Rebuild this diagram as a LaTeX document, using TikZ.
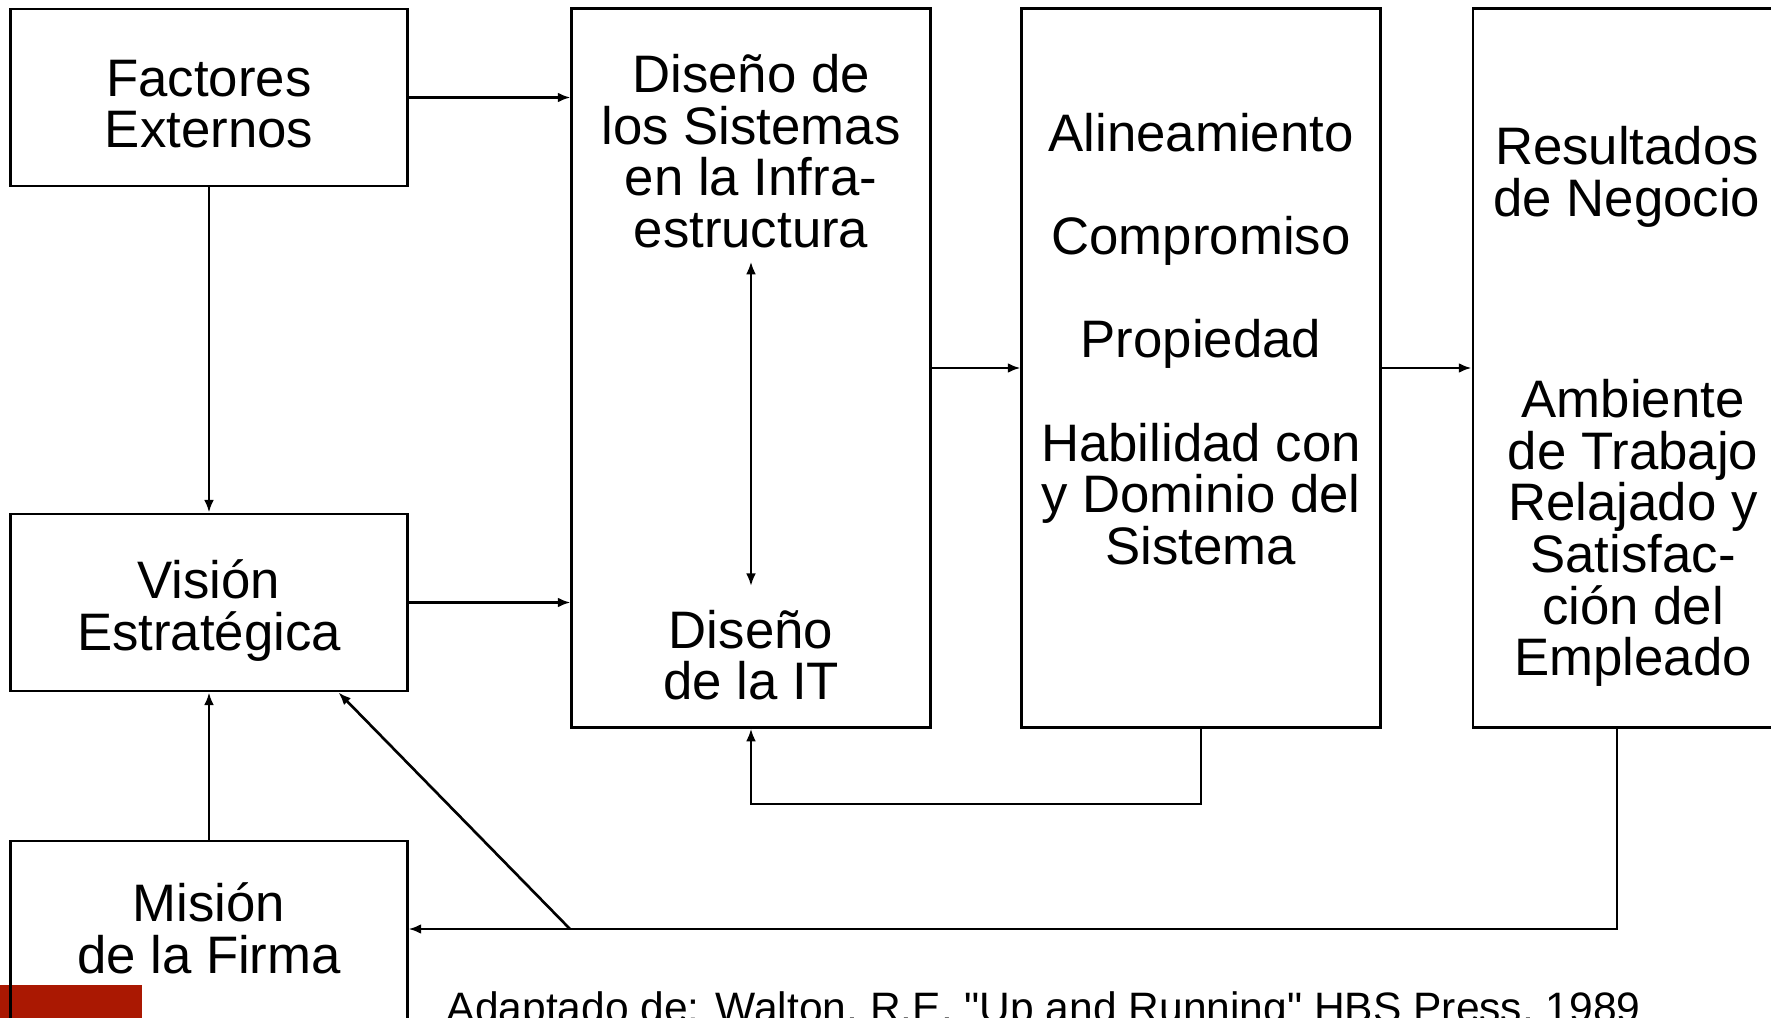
\documentclass[tikz,border=0pt]{standalone}
\usepackage{fontspec}
\setmainfont{Liberation Sans}
\usetikzlibrary{arrows.meta, calc}
\definecolor{brickred}{RGB}{170,24,2}
\tikzstyle{block} = [rectangle, 
draw=black, 
line width=0.8pt, 
inner sep=0pt]
\tikzstyle{txt} = [inner sep=0pt, 
align=center, 
font=\fontsize{15pt}{14.7pt}\selectfont]
\tikzstyle{arrow} = [line width=0.75pt, -{Latex[length=3.6pt,width=2.8pt]}]
\tikzstyle{dblarrow} = [line width=0.75pt, {Latex[length=3.6pt,width=2.8pt]}-{Latex[length=3.6pt,width=2.8pt]}]

\begin{document}
\begin{tikzpicture}[x=0.01cm, y=-0.01cm]
  \useasboundingbox (0,0) rectangle (1771,1018);
  \fill [brickred] (0,985) rectangle (142,1030);
  \node (fac) [block, minimum width=3.96cm, minimum height=1.77cm] at (209,97.5) {};
  \node (factxt) [txt] at (209,104) {Factores\\Externos};
  \node (vis) [block, minimum width=3.96cm, minimum height=1.77cm] at (209,602.5) {};
  \node (vistxt) [txt] at (209,610.5) {Visión\\Estratégica};
  \node (mis) [block, minimum width=3.96cm, minimum height=2.4cm] at (209,961) {};
  \node (mistxt) [txt] at (209,928) {Misión\\de la Firma};
  \node (dis) [block, minimum width=3.58cm, minimum height=7.18cm] at (751,368) {};
  \node (distop) [txt] at (751,151) {Diseño de\\los Sistemas\\en la Infra-\\estructura};
  \node (disbot) [txt] at (751,655) {Diseño\\de la IT};
  \node (ali) [block, minimum width=3.58cm, minimum height=7.18cm] at (1201,368) {};
  \node (alitxt) [txt] at (1201,339) {Alineamiento\\[0.517cm]Compromiso\\[0.517cm]Propiedad\\[0.517cm]Habilidad con\\y Dominio del\\Sistema};
  \node (res) [block, minimum width=3.27cm, minimum height=7.18cm] at (1636.5,368) {};
  \node (restop) [txt] at (1627,177) {Resultados\\de Negocio};
  \node (resbot) [txt] at (1633,533) {Ambiente\\de Trabajo\\Relajado y\\Satisfac-\\ción del\\Empleado};
  \node (ref) [anchor=base west, inner sep=0pt, font=\fontsize{12.1pt}{14pt}\selectfont] at (446,1022) {Adaptado de: Walton, R.E. \textquotedbl Up and Running\textquotedbl{} HBS Press, 1989};

  \coordinate (aliout) at (1201,804);
  \coordinate (resout) at (1617,929);
  \coordinate (split) at (570,929);

  \draw [arrow] (fac.east) -- (fac.east -| dis.west);
  \draw [arrow] (vis.east) -- (vis.east -| dis.west);
  \draw [arrow] (fac.south) -- (vis.north);
  \draw [arrow] (mis.north) -- (vis.south);
  \draw [arrow] (dis.east) -- (ali.west);
  \draw [arrow] (ali.east) -- (res.west);
  \draw [dblarrow, shorten <=0.13cm, shorten >=0.23cm] (distop.south) -- (disbot.north);
  \draw [arrow] (ali.south) -- (aliout) -| (dis.south);
  \draw [arrow] (res.south -| resout) -- (resout) -- (resout -| mis.east);
  \draw [arrow] (split) -- ($(vis.south east)+(-70,0)$);
\end{tikzpicture}
\end{document}
